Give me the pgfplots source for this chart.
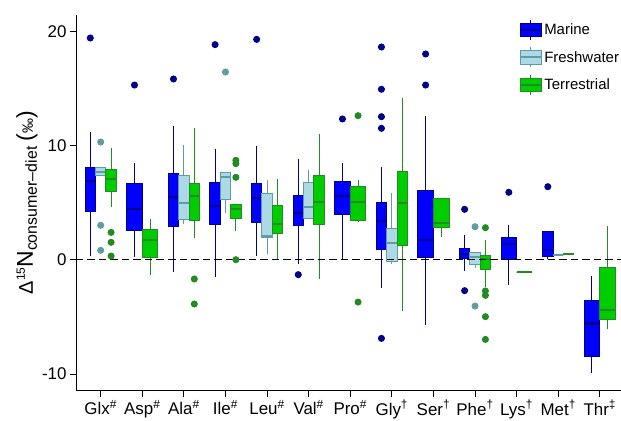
\documentclass[border=0pt]{standalone}
\usepackage{fontspec}
\setmainfont{Liberation Sans}
\usepackage{pgfplots}
\pgfplotsset{compat=1.18}
\usepgfplotslibrary{statistics}

\definecolor{marEdge}{RGB}{0,0,139}
\definecolor{marFill}{RGB}{0,0,255}
\definecolor{freEdge}{RGB}{95,158,160}
\definecolor{freFill}{RGB}{173,216,230}
\definecolor{terEdge}{RGB}{34,139,34}
\definecolor{terFill}{RGB}{0,205,0}

\pgfplotsset{
  mar/.style={draw=marEdge, fill=marFill, line width=1bp, mark=*, mark size=3bp,
    mark options={draw=marEdge, fill=marEdge}, forget plot},
  fre/.style={draw=freEdge, fill=freFill, line width=1bp, mark=*, mark size=3bp,
    mark options={draw=freEdge, fill=freEdge}, forget plot},
  ter/.style={draw=terEdge, fill=terFill, line width=1bp, mark=*, mark size=3bp,
    mark options={draw=terEdge, fill=terEdge}, forget plot},
}

\newcommand{\keyimg}[2]{%
  \draw[#1, line width=1bp] (10.5bp,-10bp) -- (10.5bp,10bp);
  \draw[#1, fill=#2, line width=1bp] (0bp,-6.6bp) rectangle (21bp,6.6bp);
  \draw[#1, line width=2bp] (0bp,0bp) -- (21bp,0bp);
}

\begin{document}
\begin{tikzpicture}
\begin{axis}[
  name=ax,
  scale only axis,
  width=545bp, height=376bp,
  xmin=0.406, xmax=13.51,
  ymin=-11.47, ymax=21.45,
  axis x line*=bottom, axis y line*=left,
  axis line style={-, line width=0.8bp},
  xtick={1,...,13},
  xticklabels={Glx\textsuperscript{\#}, Asp\textsuperscript{\#}, Ala\textsuperscript{\#},
    Ile\textsuperscript{\#}, Leu\textsuperscript{\#}, Val\textsuperscript{\#},
    Pro\textsuperscript{\#}, Gly\textsuperscript{†}, Ser\textsuperscript{†},
    Phe\textsuperscript{†}, Lys\textsuperscript{†}, Met\textsuperscript{†},
    Thr\textsuperscript{‡}},
  ytick={-10,0,10,20},
  tick align=outside,
  major tick length=6bp,
  tick style={black, line width=0.8bp},
  ticklabel style={font=\fontsize{17}{20}\selectfont},
  /pgf/number format/assume math mode=true,
  ylabel={{\fontsize{20}{20}\selectfont Δ}\raisebox{8bp}{\fontsize{12}{12}\selectfont 15}{\fontsize{23}{23}\selectfont N}\raisebox{-4bp}{\fontsize{16}{16}\selectfont consumer–diet}\hspace{5bp}{\fontsize{23}{23}\selectfont (}{\fontsize{15}{15}\selectfont ‰}{\fontsize{23}{23}\selectfont )}},
  ylabel style={at={(rel axis cs:0,0.5)}, anchor=center, yshift=49bp},
  legend style={at={(0.813,0.988)}, anchor=north west, draw=none, fill=none,
    font=\fontsize{15}{17}\selectfont, inner sep=0pt, row sep=6.5bp},
  legend cell align=left,
  boxplot/draw direction=y,
  boxplot/whisker extend=0,
  boxplot/every median/.style={line width=2.2bp},
]

\addlegendimage{legend image code/.code={\keyimg{marEdge}{marFill}}}
\addlegendentry{Marine}
\addlegendimage{legend image code/.code={\keyimg{freEdge}{freFill}}}
\addlegendentry{Freshwater}
\addlegendimage{legend image code/.code={\keyimg{terEdge}{terFill}}}
\addlegendentry{Terrestrial}

% Glx
\addplot[mar, boxplot prepared={draw position=0.75, box extend=0.25, lower whisker=0.32, lower quartile=4.20, median=6.89, upper quartile=8.09, upper whisker=11.18}] coordinates {(0,19.41)};
\addplot[fre, boxplot prepared={draw position=1.00, box extend=0.25, lower whisker=7.33, lower quartile=7.33, median=7.68, upper quartile=8.03, upper whisker=8.03}] coordinates {(0,10.30) (0,3.01) (0,0.82)};
\addplot[ter, boxplot prepared={draw position=1.25, box extend=0.25, lower whisker=4.64, lower quartile=5.98, median=7.03, upper quartile=7.91, upper whisker=9.78}] coordinates {(0,2.39) (0,1.52) (0,0.32)};
% Asp
\addplot[mar, boxplot prepared={draw position=1.8125, box extend=0.375, lower whisker=0.20, lower quartile=2.54, median=4.41, upper quartile=6.68, upper whisker=8.49}] coordinates {(0,15.29)};
\addplot[ter, boxplot prepared={draw position=2.1875, box extend=0.375, lower whisker=-1.37, lower quartile=0.15, median=1.72, upper quartile=2.66, upper whisker=3.59}] coordinates {};
% Ala
\addplot[mar, boxplot prepared={draw position=2.75, box extend=0.25, lower whisker=-1.08, lower quartile=2.89, median=5.52, upper quartile=7.53, upper whisker=11.70}] coordinates {(0,15.82)};
\addplot[fre, boxplot prepared={draw position=3.00, box extend=0.25, lower whisker=3.12, lower quartile=3.53, median=4.93, upper quartile=7.41, upper whisker=10.07}] coordinates {};
\addplot[ter, boxplot prepared={draw position=3.25, box extend=0.25, lower whisker=1.90, lower quartile=3.42, median=5.57, upper quartile=6.68, upper whisker=11.50}] coordinates {(0,-1.69) (0,-3.88)};
% Ile
\addplot[mar, boxplot prepared={draw position=3.75, box extend=0.25, lower whisker=-1.49, lower quartile=3.12, median=4.73, upper quartile=6.74, upper whisker=9.66}] coordinates {(0,18.83)};
\addplot[fre, boxplot prepared={draw position=4.00, box extend=0.25, lower whisker=4.06, lower quartile=5.28, median=7.24, upper quartile=7.62, upper whisker=7.62}] coordinates {(0,16.43)};
\addplot[ter, boxplot prepared={draw position=4.25, box extend=0.25, lower whisker=2.54, lower quartile=3.59, median=4.41, upper quartile=4.82, upper whisker=4.82}] coordinates {(0,8.70) (0,8.41) (0,7.21) (0,0.00)};
% Leu
\addplot[mar, boxplot prepared={draw position=4.75, box extend=0.25, lower whisker=0.32, lower quartile=3.27, median=5.37, upper quartile=6.63, upper whisker=9.98}] coordinates {(0,19.29)};
\addplot[fre, boxplot prepared={draw position=5.00, box extend=0.25, lower whisker=0.50, lower quartile=1.96, median=2.10, upper quartile=5.81, upper whisker=6.98}] coordinates {};
\addplot[ter, boxplot prepared={draw position=5.25, box extend=0.25, lower whisker=0.00, lower quartile=2.31, median=3.09, upper quartile=4.76, upper whisker=7.06}] coordinates {};
% Val
\addplot[mar, boxplot prepared={draw position=5.75, box extend=0.25, lower whisker=-0.38, lower quartile=2.98, median=4.12, upper quartile=5.60, upper whisker=8.79}] coordinates {(0,-1.31)};
\addplot[fre, boxplot prepared={draw position=6.00, box extend=0.25, lower whisker=3.65, lower quartile=3.65, median=4.58, upper quartile=6.80, upper whisker=7.85}] coordinates {};
\addplot[ter, boxplot prepared={draw position=6.25, box extend=0.25, lower whisker=-1.66, lower quartile=3.12, median=5.08, upper quartile=7.38, upper whisker=10.97}] coordinates {};
% Pro
\addplot[mar, boxplot prepared={draw position=6.8125, box extend=0.375, lower whisker=0.00, lower quartile=3.97, median=5.55, upper quartile=6.86, upper whisker=8.49}] coordinates {(0,12.32)};
\addplot[ter, boxplot prepared={draw position=7.1875, box extend=0.375, lower whisker=3.35, lower quartile=3.42, median=5.02, upper quartile=6.39, upper whisker=6.98}] coordinates {(0,12.61) (0,-3.71)};
% Gly
\addplot[mar, boxplot prepared={draw position=7.75, box extend=0.25, lower whisker=-2.48, lower quartile=0.90, median=3.42, upper quartile=5.02, upper whisker=8.09}] coordinates {(0,18.62) (0,14.92) (0,12.52) (0,11.50) (0,-6.89)};
\addplot[fre, boxplot prepared={draw position=8.00, box extend=0.25, lower whisker=-0.38, lower quartile=-0.20, median=1.43, upper quartile=2.71, upper whisker=5.87}] coordinates {};
\addplot[ter, boxplot prepared={draw position=8.25, box extend=0.25, lower whisker=-4.47, lower quartile=1.26, median=4.99, upper quartile=7.73, upper whisker=14.19}] coordinates {};
% Ser
\addplot[mar, boxplot prepared={draw position=8.8125, box extend=0.375, lower whisker=-5.75, lower quartile=0.20, median=1.72, upper quartile=6.10, upper whisker=12.58}] coordinates {(0,18.01) (0,15.29)};
\addplot[ter, boxplot prepared={draw position=9.1875, box extend=0.375, lower whisker=2.01, lower quartile=2.83, median=3.24, upper quartile=5.40, upper whisker=5.43}] coordinates {};
% Phe
\addplot[mar, boxplot prepared={draw position=9.75, box extend=0.25, lower whisker=-0.96, lower quartile=0.12, median=0.50, upper quartile=0.99, upper whisker=2.19}] coordinates {(0,4.41) (0,-2.71)};
\addplot[fre, boxplot prepared={draw position=10.00, box extend=0.25, lower whisker=-0.76, lower quartile=-0.38, median=0.26, upper quartile=0.61, upper whisker=0.61}] coordinates {(0,2.89) (0,-4.06)};
\addplot[ter, boxplot prepared={draw position=10.25, box extend=0.25, lower whisker=-2.36, lower quartile=-0.85, median=0.09, upper quartile=0.41, upper whisker=1.72}] coordinates {(0,2.80) (0,-2.74) (0,-3.12) (0,-4.99) (0,-6.98)};
% Lys
\addplot[mar, boxplot prepared={draw position=10.8125, box extend=0.375, lower whisker=-2.19, lower quartile=0.03, median=1.34, upper quartile=1.93, upper whisker=3.01}] coordinates {(0,5.90)};
\addplot[ter, boxplot prepared={draw position=11.1875, box extend=0.375, lower whisker=-1.11, lower quartile=-1.11, median=-1.11, upper quartile=-1.11, upper whisker=-1.11}] coordinates {};
% Met
\addplot[mar, boxplot prepared={draw position=11.75, box extend=0.25, lower whisker=0.03, lower quartile=0.32, median=0.85, upper quartile=2.45, upper whisker=2.45}] coordinates {(0,6.39)};
\addplot[fre, boxplot prepared={draw position=12.00, box extend=0.25, lower whisker=0.38, lower quartile=0.38, median=0.38, upper quartile=0.38, upper whisker=0.38}] coordinates {};
\addplot[ter, boxplot prepared={draw position=12.25, box extend=0.25, lower whisker=0.53, lower quartile=0.53, median=0.53, upper quartile=0.53, upper whisker=0.53}] coordinates {};
% Thr
\addplot[mar, boxplot prepared={draw position=12.8125, box extend=0.375, lower whisker=-9.95, lower quartile=-8.49, median=-5.58, upper quartile=-3.59, upper whisker=-1.43}] coordinates {};
\addplot[ter, boxplot prepared={draw position=13.1875, box extend=0.375, lower whisker=-6.10, lower quartile=-5.22, median=-4.41, upper quartile=-0.67, upper whisker=2.95}] coordinates {};

% reference line at zero
\addplot[black, line width=0.8bp, dash pattern=on 7.5bp off 4bp, forget plot] coordinates {(0.406,0) (13.51,0)};
\end{axis}
\pgfresetboundingbox
\path ([shift={(-76bp,-30.3bp)}]ax.south west) rectangle ([shift={(0bp,14.7bp)}]ax.north east);
\end{tikzpicture}
\end{document}
